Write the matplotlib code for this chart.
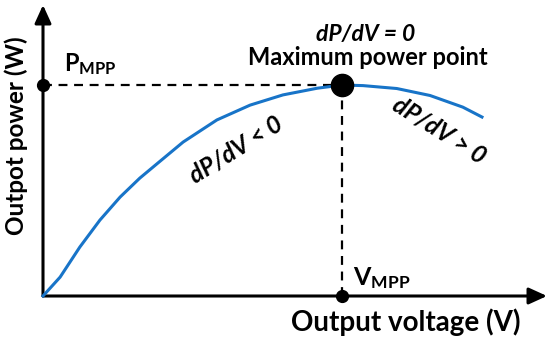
import matplotlib
matplotlib.use("Agg")
import matplotlib.pyplot as plt

# curve data (arbitrary units: voltage 0-100, power 0-100)
voltage = [0, 3.4, 7.3, 11.3, 15.3, 19.2, 22.8, 27.8, 34.5, 41.1, 47.6, 54.4, 59.3, 63.5, 70.2, 76.8, 83.3, 87.1]
power = [0, 6.5, 16.8, 26.1, 34.0, 40.5, 45.7, 52.9, 60.5, 65.6, 69.1, 71.4, 72.5, 72.3, 71.3, 68.9, 64.9, 61.5]
v_mpp = 59.3
p_mpp = 72.5

plt.rcParams['font.family'] = ['Lato', 'DejaVu Sans']
plt.rcParams['mathtext.fontset'] = 'custom'
plt.rcParams['mathtext.bf'] = 'Lato:bold'
plt.rcParams['mathtext.rm'] = 'Lato:bold'

fig = plt.figure(figsize=(5.5, 3.42), dpi=100)
ax = fig.add_axes([43/550, 46/342, 504/550, 291/342])
ax.set_xlim(0, 100)
ax.set_ylim(0, 100)
for s in ax.spines.values():
    s.set_visible(False)
ax.set_xticks([])
ax.set_yticks([])

# axes arrows
ax.annotate('', xy=(1.0, 0), xytext=(0, 0), xycoords='axes fraction',
            arrowprops=dict(arrowstyle='-|>,head_length=1.1,head_width=0.5', color='black', lw=2.2, shrinkA=0, shrinkB=0))
ax.annotate('', xy=(0, 1.0), xytext=(0, 0), xycoords='axes fraction',
            arrowprops=dict(arrowstyle='-|>,head_length=1.1,head_width=0.5', color='black', lw=2.2, shrinkA=0, shrinkB=0))

ax.plot(voltage, power, color='#1874c8', lw=2.2, zorder=3, clip_on=False, solid_joinstyle='round')

ax.plot([0, v_mpp], [p_mpp, p_mpp], color='black', lw=1.6, ls=(0, (4, 3)), zorder=2)
ax.plot([v_mpp, v_mpp], [0, p_mpp], color='black', lw=1.6, ls=(0, (4, 3)), zorder=2)

ax.plot([v_mpp], [p_mpp], 'o', color='black', ms=16, zorder=5, clip_on=False)
ax.plot([0, v_mpp], [p_mpp, 0], 'o', color='black', ms=8.5, zorder=5, clip_on=False, ls='none')

ax.text(4.2, 77.3, r'$\mathbf{P_{MPP}}$', fontsize=17, ha='left', va='baseline')
ax.text(v_mpp + 2.3, 3.8, r'$\mathbf{V_{MPP}}$', fontsize=18, ha='left', va='baseline')
ax.text(64.1, 90, 'dP/dV = 0', fontsize=16.5, fontweight='bold', fontstyle='italic', ha='center', va='center')
ax.text(64.5, 81.8, 'Maximum power point', fontsize=17, fontweight='bold', ha='center', va='center')
ax.text(38.3, 50.2, 'dP/dV < 0', fontsize=17.5, fontweight='bold', fontstyle='italic', ha='center', va='center', rotation=32)
ax.text(78.6, 57, 'dP/dV > 0', fontsize=17.5, fontweight='bold', fontstyle='italic', ha='center', va='center', rotation=-32)

fig.text(406/550, 1 - 322/342, 'Output voltage (V)', fontsize=20, fontweight='bold', ha='center', va='center')
fig.text(16/550, 1 - 136/342, 'Outpot power (W)', fontsize=17.5, fontweight='bold', ha='center', va='center', rotation=90)

fig.savefig('out.png', dpi=100)
